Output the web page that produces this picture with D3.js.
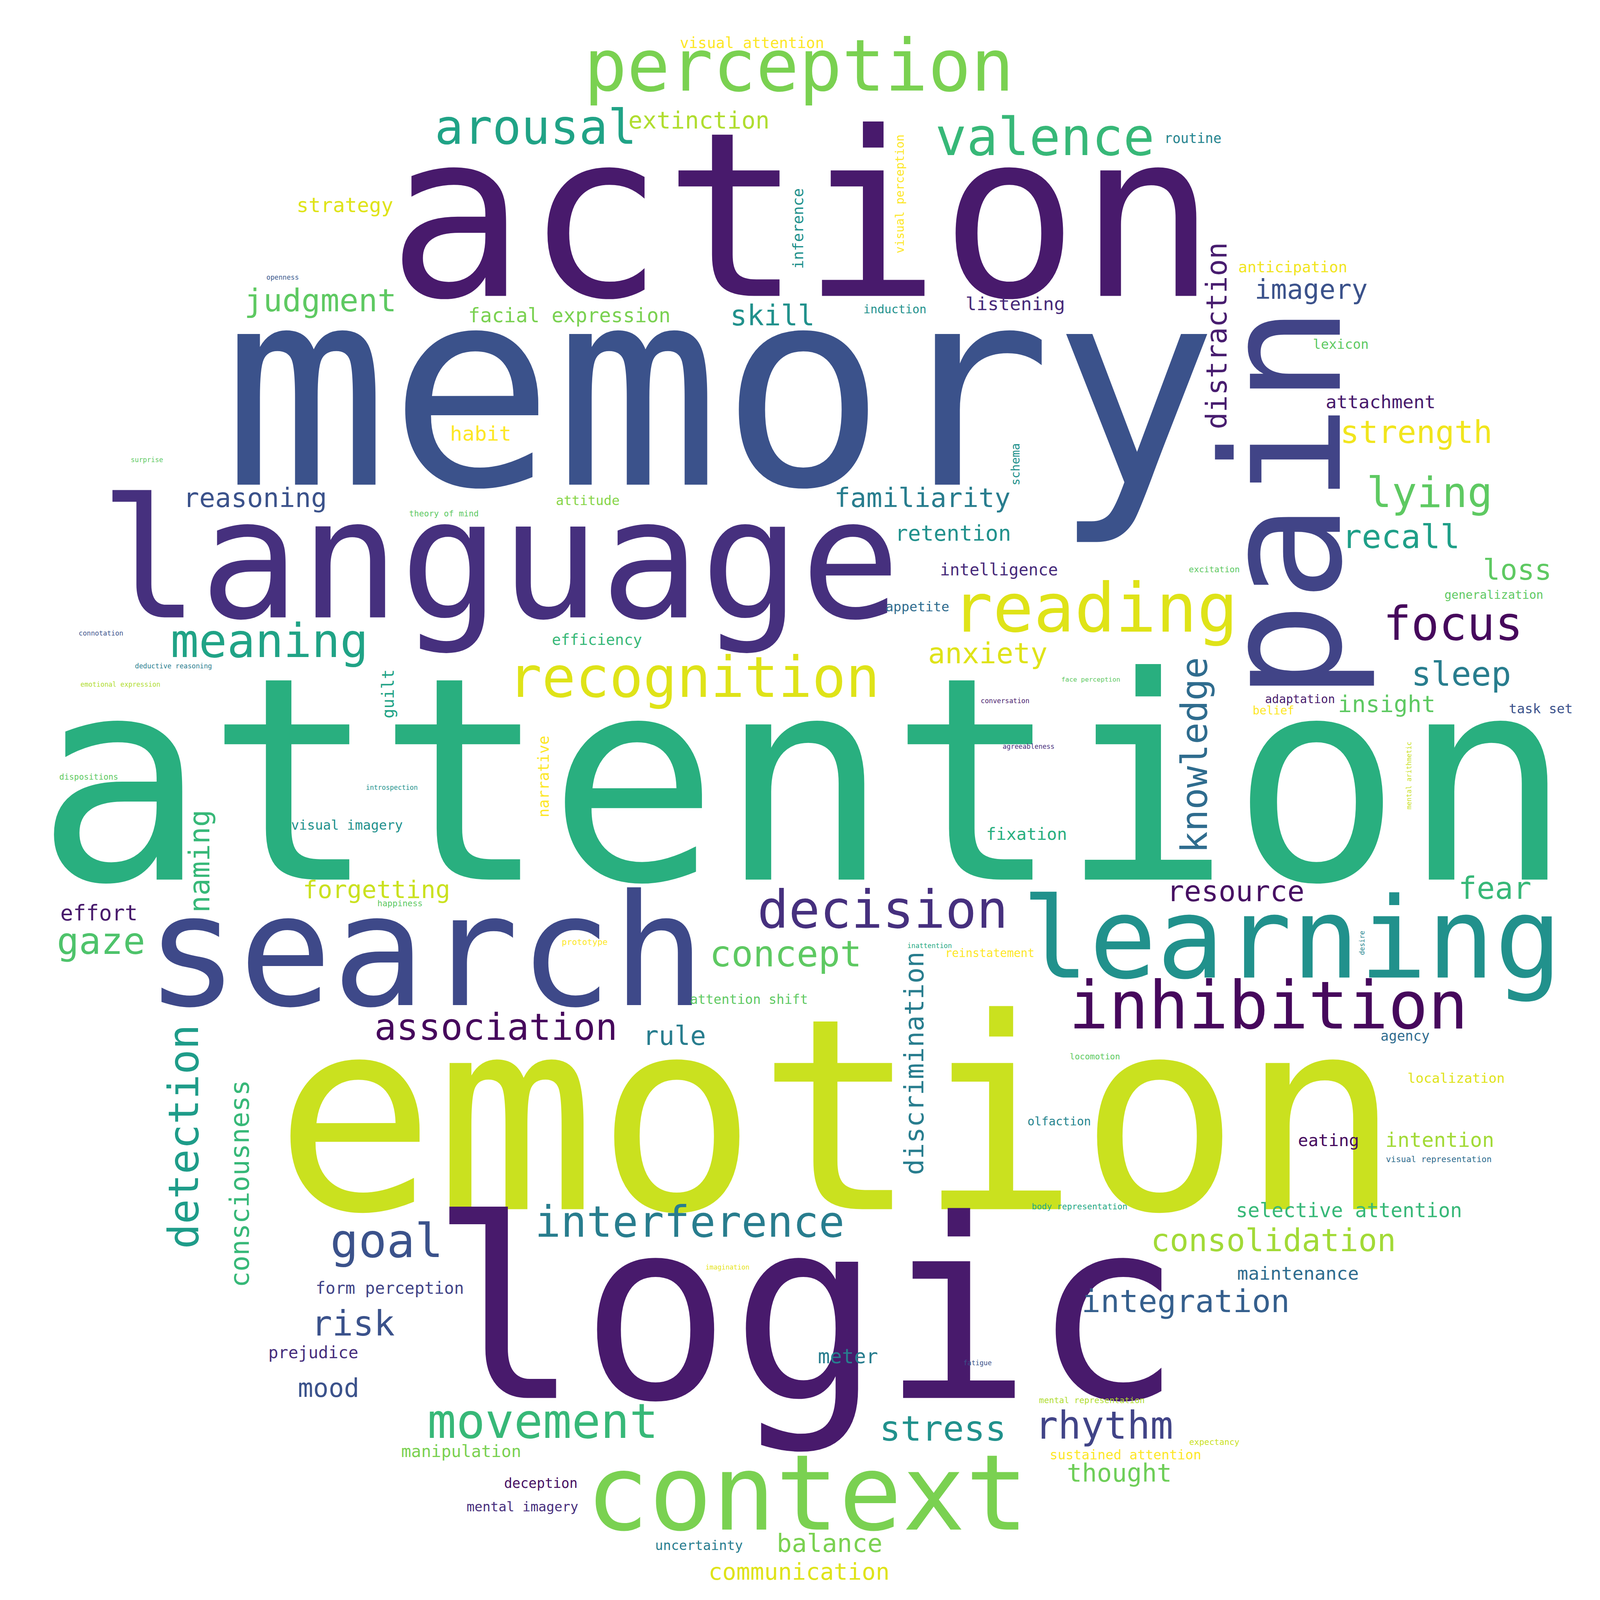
<!DOCTYPE html>
<html>
<head>
<meta charset="utf-8">
<script src="https://cdn.jsdelivr.net/npm/d3@7"></script>
<style>
  html, body { margin: 0; padding: 0; background: #fff; overflow: hidden; }
  svg { display: block; width: 100vw; height: 100vh; }
</style>
</head>
<body>
<div id="chart"></div>
<script>
// words of the cloud, their relative weight (font size in cloud units) and colour tone on viridis
const words = [
  "attention", "memory", "action", "language", "emotion", "logic", "search", "learning",
  "context", "perception", "valence", "arousal", "extinction", "visual attention", "routine",
  "strategy", "judgment", "openness", "facial expression", "skill", "induction", "listening",
  "anticipation", "imagery", "lexicon", "attachment", "strength", "lying", "recall", "loss",
  "generalization", "focus", "excitation", "sleep", "insight", "task set", "adaptation", "belief",
  "face perception", "conversation", "agreeableness", "familiarity", "retention", "intelligence",
  "appetite", "reading", "anxiety", "habit", "attitude", "theory of mind", "recognition",
  "reasoning", "surprise", "meaning", "connotation", "deductive reasoning", "emotional expression",
  "dispositions", "introspection", "efficiency", "visual imagery", "forgetting", "happiness",
  "effort", "gaze", "prototype", "inattention", "reinstatement", "attention shift", "decision",
  "concept", "association", "rule", "inhibition", "resource", "fear", "fixation", "agency",
  "locomotion", "localization", "olfaction", "eating", "intention", "visual representation",
  "body representation", "selective attention", "consolidation", "maintenance", "integration",
  "fatigue", "mental representation", "rhythm", "stress", "expectancy", "sustained attention",
  "thought", "meter", "imagination", "movement", "manipulation", "deception", "mental imagery",
  "uncertainty", "balance", "communication", "interference", "goal", "form perception", "risk",
  "prejudice", "mood",
  // vertical words
  "pain", "inference", "visual perception", "distraction", "mental arithmetic", "schema", "guilt",
  "narrative", "naming", "discrimination", "knowledge", "desire", "detection", "consciousness"
];

const weights = [
  278, 270, 225, 163, 262, 245, 152, 110,
  103, 70, 51, 47, 23, 14.7, 13.3,
  19.7, 31, 6.6, 19.4, 27.6, 11.4, 18,
  14.8, 26.3, 13, 17.9, 31, 41, 32, 28,
  11.5, 45.5, 8.3, 32.5, 22.7, 13, 11.4, 11.3,
  6.4, 6.6, 6.5, 26.1, 21, 16,
  13, 66.5, 27.8, 20, 13, 8.1, 55,
  26, 6.6, 46, 6.6, 6.6, 6.5,
  8, 6.5, 14.7, 13, 24, 8.2,
  21, 36, 8.3, 6.6, 11.2, 12.8, 51,
  35.4, 36, 25.7, 65, 28, 29.7, 16.5, 13.3,
  8.2, 13.2, 11.5, 16.6, 19.7, 8.2,
  8.2, 19.4, 30.7, 18, 30.8,
  6.6, 8.2, 37.5, 34.4, 8.2, 13,
  24.4, 19.6, 6.5, 47, 16.3, 13.3, 13,
  13, 24.6, 22.7, 42, 46, 16.1, 34,
  16.3, 25,
  161, 14.6, 11.4, 27.7, 6.5, 11.5, 16,
  14.8, 28, 26, 35.5, 6.6, 40.6, 26
];

const tones = [
  0.63, 0.25, 0.07, 0.14, 0.92, 0.07, 0.22, 0.5,
  0.8, 0.8, 0.67, 0.58, 0.88, 1.0, 0.45,
  0.95, 0.75, 0.27, 0.8, 0.5, 0.5, 0.12,
  0.98, 0.25, 0.75, 0.07, 0.98, 0.75, 0.56, 0.75,
  0.75, 0.02, 0.75, 0.42, 0.75, 0.25, 0.07, 1.0,
  0.75, 0.07, 0.13, 0.42, 0.5, 0.12,
  0.35, 0.95, 0.95, 1.0, 0.82, 0.75, 0.95,
  0.25, 0.75, 0.58, 0.25, 0.42, 0.88,
  0.75, 0.5, 0.67, 0.5, 0.92, 0.75,
  0.07, 0.72, 1.0, 0.6, 1.0, 0.75, 0.14,
  0.75, 0.02, 0.42, 0.02, 0.04, 0.67, 0.63, 0.35,
  0.75, 0.95, 0.45, 0.03, 0.86, 0.35,
  0.6, 0.67, 0.86, 0.35, 0.3,
  0.25, 0.88, 0.2, 0.5, 0.92, 1.0,
  0.78, 0.42, 0.96, 0.67, 0.8, 0.04, 0.13,
  0.42, 0.8, 0.95, 0.42, 0.25, 0.2, 0.25,
  0.13, 0.25,
  0.2, 0.5, 1.0, 0.08, 0.92, 0.5, 0.58,
  1.0, 0.67, 0.42, 0.35, 0.45, 0.55, 0.67
];

// cloud layout result in cloud units (0..1568): [centre along text, baseline, rotated]
const placement = [
  [788, 862, 0], [706, 475, 0], [786, 290, 0], [490, 605, 0], [821, 1185, 0], [790, 1370, 0],
  [417, 985, 0], [1266, 958, 0], [791, 1499, 0], [783, 89, 0], [1024, 152, 0], [525, 141, 0],
  [685, 126, 0], [737, 47, 0], [1169, 140, 0], [338, 208, 0], [314, 305, 0], [277, 274, 0],
  [558, 316, 0], [757, 319, 0], [877, 307, 0], [995, 304, 0], [1267, 267, 0], [1285, 293, 0],
  [1314, 342, 0], [1353, 400, 0], [1388, 434, 0], [1401, 497, 0], [1373, 537, 0], [1487, 568, 0],
  [1464, 587, 0], [1424, 627, 0], [1190, 561, 0], [1432, 672, 0], [1359, 698, 0], [1510, 699, 0],
  [1274, 689, 0], [1248, 700, 0], [1069, 668, 0], [985, 689, 0], [1008, 734, 0], [904, 497, 0],
  [934, 530, 0], [979, 564, 0], [899, 599, 0], [1073, 619, 0], [968, 650, 0], [471, 432, 0],
  [576, 495, 0], [435, 506, 0], [680, 683, 0], [250, 497, 0], [144, 453, 0], [264, 644, 0],
  [99, 623, 0], [170, 655, 0], [118, 673, 0], [87, 764, 0], [384, 774, 0], [585, 632, 0],
  [340, 813, 0], [369, 880, 0], [392, 888, 0], [97, 902, 0], [99, 935, 0], [573, 926, 0],
  [911, 929, 0], [970, 938, 0], [734, 984, 0], [865, 909, 0], [770, 947, 0], [486, 1019, 0],
  [661, 1024, 0], [1243, 1008, 0], [1211, 883, 0], [1465, 881, 0], [1006, 823, 0], [1377, 1020, 0],
  [1073, 1038, 0], [1427, 1061, 0], [1038, 1103, 0], [1302, 1123, 0], [1411, 1124, 0], [1410, 1139, 0],
  [1058, 1185, 0], [1322, 1193, 0], [1248, 1226, 0], [1272, 1254, 0], [1162, 1286, 0], [958, 1338, 0],
  [1070, 1375, 0], [1082, 1410, 0], [924, 1412, 0], [1190, 1416, 0], [1103, 1430, 0], [1097, 1452, 0],
  [831, 1336, 0], [713, 1244, 0], [532, 1409, 0], [452, 1428, 0], [530, 1458, 0], [512, 1481, 0],
  [685, 1519, 0], [813, 1521, 0], [783, 1548, 0], [676, 1212, 0], [379, 1232, 0], [382, 1268, 0],
  [346, 1309, 0], [307, 1331, 0], [322, 1369, 0],
  // rotated: [centre y, baseline x, 1]
  [493, 1313, 1], [224, 787, 1], [190, 886, 1], [329, 1202, 1], [760, 1383, 1], [455, 999, 1],
  [680, 386, 1], [761, 538, 1], [844, 205, 1], [1042, 905, 1], [740, 1183, 1], [924, 1337, 1],
  [1114, 194, 1], [1160, 244, 1]
];

const W = 5749, H = 5749, UNIT = 1568;

const pos = d3.scaleLinear().domain([0, UNIT]).range([0, W]);
const fontSize = d3.scaleLinear().domain([0, UNIT]).range([0, W]);

const cloud = words.map((w, i) => ({
  text: w,
  size: weights[i],
  tone: tones[i],
  along: placement[i][0],
  base: placement[i][1],
  rotated: placement[i][2] === 1
}));

// viewBox keeps the whole cloud inside the window whatever its real size
const svg = d3.select("#chart").append("svg")
  .attr("viewBox", `0 0 ${W} ${H}`)
  .attr("preserveAspectRatio", "xMidYMid meet");

svg.append("rect").attr("width", W).attr("height", H).attr("fill", "#ffffff");

// biggest words first, like the cloud layout draws them
svg.append("g")
  .selectAll("text")
  .data(cloud.slice().sort((a, b) => b.size - a.size))
  .join("text")
  .attr("transform", d => d.rotated
    ? `translate(${pos(d.base)},${pos(d.along)}) rotate(-90)`
    : `translate(${pos(d.along)},${pos(d.base)})`)
  .attr("text-anchor", "middle")
  .style("font-family", "'DejaVu Sans Mono', monospace")
  .style("font-size", d => fontSize(d.size) + "px")
  .style("fill", d => d3.interpolateViridis(d.tone))
  .text(d => d.text);
</script>
</body>
</html>
